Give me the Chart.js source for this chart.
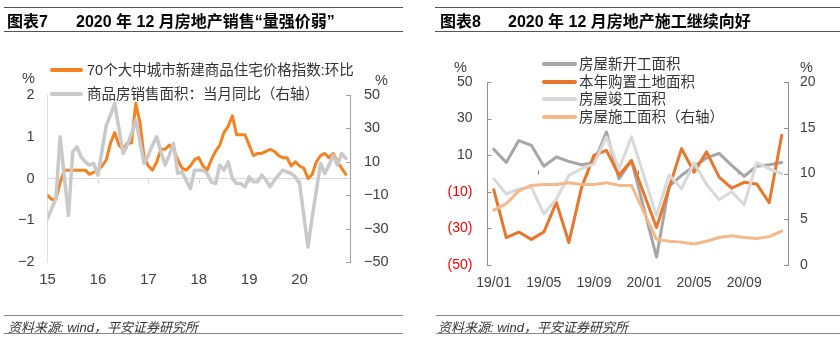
<!DOCTYPE html>
<html>
<head>
<meta charset="utf-8">
<script src="https://cdn.jsdelivr.net/npm/chart.js@4.4.0/dist/chart.umd.min.js"></script>
<style>
body { margin: 0; background: #fff; width: 840px; height: 341px; position: relative; overflow: hidden;
       font-family: 'Liberation Sans', 'Noto Sans CJK SC', sans-serif; color: #404040; }
.panel { position: absolute; top: 0; width: 420px; height: 341px; }
.panel canvas { position: absolute; left: 0; top: 0; z-index: 1; }
.t { position: absolute; white-space: nowrap; z-index: 2; transform: translateY(-50%); }
.rule { position: absolute; height: 0; z-index: 2; }
.title { font-size: 16px; font-weight: bold; color: #000; }
.leg { font-size: 14.5px; line-height: 18px; display: flex; align-items: center; color: #333; }
.sw { display: inline-block; height: 4px; border-radius: 2px; }
.unit { font-size: 14.5px; color: #404040; }
.src { font-size: 13px; font-style: italic; color: #333; }
</style>
</head>
<body>

<div class="panel" style="left:0">
  <div class="rule" style="left:4px;width:399px;top:7px;border-top:1.5px solid #555"></div>
  <div class="t title" style="left:7px;top:20px">图表7</div>
  <div class="t title" style="left:76px;top:20px">2020 年 12 月房地产销售“量强价弱”</div>
  <div class="rule" style="left:4px;width:399px;top:31px;border-top:1.5px solid #555"></div>
  <div class="t leg" style="left:50px;top:70px"><span class="sw" style="width:33px;margin-right:4px;background:#F58220"></span>70个大中城市新建商品住宅价格指数:环比</div>
  <div class="t leg" style="left:50px;top:94px"><span class="sw" style="width:33px;margin-right:4px;background:#C9C9C9"></span>商品房销售面积：当月同比（右轴）</div>
  <div class="t unit" style="left:22px;top:78px">%</div>
  <div class="t unit" style="left:375px;top:80px">%</div>
  <canvas id="c1" width="420" height="341"></canvas>
  <div class="rule" style="left:4px;width:399px;top:315px;border-top:1.5px solid #888"></div>
  <div class="t src" style="left:8px;top:326px">资料来源: wind，平安证券研究所</div>
  <div class="rule" style="left:4px;width:399px;top:333px;border-top:1.5px solid #888"></div>
</div>

<div class="panel" style="left:420px">
  <div class="rule" style="left:15px;width:405px;top:7px;border-top:1.5px solid #555"></div>
  <div class="t title" style="left:20px;top:20px">图表8</div>
  <div class="t title" style="left:88px;top:20px">2020 年 12 月房地产施工继续向好</div>
  <div class="rule" style="left:15px;width:405px;top:31px;border-top:1.5px solid #555"></div>
  <div class="t leg" style="left:122px;top:64px"><span class="sw" style="width:35px;margin-right:2px;background:#A6A6A6"></span>房屋新开工面积</div>
  <div class="t leg" style="left:122px;top:82px"><span class="sw" style="width:35px;margin-right:2px;background:#E8762B"></span>本年购置土地面积</div>
  <div class="t leg" style="left:122px;top:99px"><span class="sw" style="width:35px;margin-right:2px;background:#D9D9D9"></span>房屋竣工面积</div>
  <div class="t leg" style="left:122px;top:117px"><span class="sw" style="width:35px;margin-right:2px;background:#F5B888"></span>房屋施工面积（右轴）</div>
  <div class="t unit" style="left:34px;top:67px">%</div>
  <div class="t unit" style="left:380px;top:67px">%</div>
  <canvas id="c2" width="420" height="341"></canvas>
  <div class="rule" style="left:16px;width:404px;top:315px;border-top:1.5px solid #888"></div>
  <div class="t src" style="left:18px;top:326px">资料来源: wind，平安证券研究所</div>
  <div class="rule" style="left:16px;width:404px;top:333px;border-top:1.5px solid #888"></div>
</div>

<script>
// ---- chart 7 data: monthly 2015-01 .. 2020-12 ----
const years = ['15', '16', '17', '18', '19', '20'];
const priceMoM = [
  -0.4, -0.5, -0.5, -0.1, 0.2, 0.2, 0.2, 0.2, 0.2, 0.2, 0.1, 0.15,
  0.2, 0.3, 0.45, 0.85, 1.1, 0.8, 0.7, 0.85, 0.85, 1.8, 1.35, 0.5,
  0.3, 0.2, 0.4, 0.7, 0.7, 0.8, 0.7, 0.45, 0.25, 0.2, 0.3, 0.45,
  0.5, 0.3, 0.2, 0.45, 0.65, 0.8, 1.1, 1.25, 1.5, 1.05, 1.05, 1.05,
  0.8, 0.55, 0.6, 0.6, 0.65, 0.7, 0.65, 0.55, 0.5, 0.5, 0.3, 0.4,
  0.3, 0.25, 0.0, 0.1, 0.4, 0.55, 0.6, 0.5, 0.6, 0.4, 0.25, 0.1
];
const salesYoY = [
  -24, -18, -12, 25, 1, -22, 16, 19, 13, 10, 8, 9,
  2, 17, 32, 38, 45, 30, 15, 20, 27, 35, 22, 9,
  14, 20, 25, 16, 8, 14, 21, 3, 4, -1, -6, 5,
  5, 5, 3, -2, -3, 8, 5, 10, 0, -3, -3, -5,
  1, -2, -2, 2, -1, -5, -1, 2, 5, 4, 3, 1,
  -3, -22, -41, -23, -7, 9, 3, 8, 14, 8, 15, 12
];

// ---- chart 8 data: 2019-01 .. 2020-12 ----
const months = ['19/01', '19/02', '19/03', '19/04', '19/05', '19/06', '19/07', '19/08', '19/09', '19/10', '19/11', '19/12',
                '20/01', '20/02', '20/03', '20/04', '20/05', '20/06', '20/07', '20/08', '20/09', '20/10', '20/11', '20/12'];
const newStarts = [13.3, 6, 18, 15.4, 4, 9, 6.6, 4.8, 5.9, 22.7, -2.9, 7.1, null, -45.7, -7, -1, 4, 8.5, 11, 4.4, -1.5, 4, 4.8, 6];
const landBought = [-8.8, -35, -32, -36, -32, -15.8, -37.7, -8, 9.9, 12.6, -1, 7.1, null, -29.5, -8, 13.6, 0.7, 11.8, -2, -8, -4.8, -5.7, -16, 20.9];
const completed = [-2.9, -11.2, -8.4, -7.5, -22.1, -13.9, -1.1, 2.6, 5.3, 20, 2.5, 20, null, -23, -0.7, -8.4, 5.9, -6, -14.3, -10, -17, 5.9, 2.6, -0.2];
const underConstr = [6.0, 6.7, 8.1, 8.7, 8.8, 8.8, 9.0, 8.8, 8.8, 9.0, 8.7, 8.7, null, 2.8, 2.6, 2.5, 2.3, 2.6, 3.0, 3.2, 3.0, 2.9, 3.1, 3.7];

const FONT = "'Liberation Sans', 'Noto Sans CJK SC', sans-serif";
const TXT = '#404040';
const minus = v => String(v).replace('-', '\u2212');

// small inward tick marks on the value axes and on the zero line
const axisMarks = {
  id: 'axisMarks',
  beforeDatasetsDraw(chart, args, opts) {
    const ctx = chart.ctx;
    ctx.save();
    ctx.lineWidth = 1;
    (opts.axes || []).forEach(a => {
      const s = chart.scales[a.id];
      const x0 = s.position === 'left' ? s.right : s.left;
      const dir = s.position === 'left' ? 1 : -1;
      ctx.strokeStyle = a.color;
      s.ticks.forEach(tk => {
        const y = Math.round(s.getPixelForValue(tk.value)) + 0.5;
        ctx.beginPath();
        ctx.moveTo(x0, y);
        ctx.lineTo(x0 + dir * 4, y);
        ctx.stroke();
      });
    });
    if (opts.zero) {
      const z = opts.zero;
      const y = Math.round(chart.scales[z.yId].getPixelForValue(0)) + 0.5;
      ctx.strokeStyle = z.color;
      z.at.forEach(v => {
        const x = Math.round(chart.scales.x.getPixelForValue(v)) + 0.5;
        ctx.beginPath();
        ctx.moveTo(x, y);
        ctx.lineTo(x, y + z.dir * 4);
        ctx.stroke();
      });
    }
    ctx.restore();
  }
};

const lineDefaults = { pointRadius: 0, tension: 0, borderJoinStyle: 'round', borderCapStyle: 'round', fill: false };

new Chart(document.getElementById('c1'), {
  type: 'line',
  data: {
    datasets: [
      Object.assign({
        label: '70个大中城市新建商品住宅价格指数:环比',
        data: priceMoM.map((v, i) => ({ x: i, y: v })),
        yAxisID: 'y', borderColor: '#F58220', borderWidth: 3, order: 1
      }, lineDefaults),
      Object.assign({
        label: '商品房销售面积：当月同比（右轴）',
        data: salesYoY.map((v, i) => ({ x: i, y: v })),
        yAxisID: 'y1', borderColor: '#C9C9C9', borderWidth: 3.5, order: 0
      }, lineDefaults)
    ]
  },
  options: {
    responsive: false,
    animation: false,
    layout: { padding: { top: 95, left: 0, right: 10, bottom: 49 } },
    plugins: {
      legend: { display: false },
      tooltip: { enabled: false },
      axisMarks: {
        axes: [{ id: 'y1', color: '#A0A0A0' }],
        zero: { yId: 'y', at: [12, 24, 36, 48, 60], dir: 1, color: '#D0D0D0' }
      }
    },
    scales: {
      x: {
        type: 'linear', min: 0, max: 72,
        grid: { display: false, drawTicks: false },
        border: { display: false },
        afterBuildTicks: s => { s.ticks = years.map((y, i) => ({ value: i * 12 })); },
        ticks: { callback: v => years[v / 12], color: TXT, font: { size: 15, family: FONT }, padding: 9, maxRotation: 0, autoSkip: false },
        afterFit: s => { s.height = 30; }
      },
      y: {
        position: 'left', min: -2, max: 2,
        grid: { color: c => c.tick.value === 0 ? '#D9D9D9' : 'rgba(0,0,0,0)', drawTicks: false, lineWidth: 1 },
        border: { display: true, color: '#DDDDDD' },
        ticks: { stepSize: 1, callback: v => minus(v), color: TXT, font: { size: 14.5, family: FONT }, padding: 13 },
        afterFit: s => { s.width = 47.5; }
      },
      y1: {
        position: 'right', min: -50, max: 50,
        grid: { display: false, drawTicks: false },
        border: { display: true, color: '#A0A0A0' },
        ticks: { stepSize: 20, callback: v => minus(v), color: TXT, font: { size: 14.5, family: FONT }, padding: 14 },
        afterFit: s => { s.width = 60; }
      }
    }
  },
  plugins: [axisMarks]
});

new Chart(document.getElementById('c2'), {
  type: 'line',
  data: {
    labels: months,
    datasets: [
      Object.assign({ label: '房屋新开工面积', data: newStarts, yAxisID: 'y', borderColor: '#A6A6A6', borderWidth: 3, order: 4, spanGaps: true }, lineDefaults),
      Object.assign({ label: '本年购置土地面积', data: landBought, yAxisID: 'y', borderColor: '#E8762B', borderWidth: 3, order: 3, spanGaps: true }, lineDefaults),
      Object.assign({ label: '房屋竣工面积', data: completed, yAxisID: 'y', borderColor: '#D9D9D9', borderWidth: 3, order: 2, spanGaps: true }, lineDefaults),
      Object.assign({ label: '房屋施工面积（右轴）', data: underConstr, yAxisID: 'y1', borderColor: '#F5B888', borderWidth: 3, order: 1, spanGaps: true }, lineDefaults)
    ]
  },
  options: {
    responsive: false,
    animation: false,
    layout: { padding: { top: 82, left: 0, right: 12, bottom: 46 } },
    plugins: {
      legend: { display: false },
      tooltip: { enabled: false },
      axisMarks: {
        axes: [{ id: 'y', color: '#909090' }, { id: 'y1', color: '#909090' }],
        zero: { yId: 'y', at: [3.5, 7.5, 11.5, 15.5, 19.5], dir: -1, color: '#808080' }
      }
    },
    scales: {
      x: {
        type: 'category', offset: true,
        grid: { display: false, drawTicks: false },
        border: { display: false },
        ticks: { autoSkip: false, maxRotation: 0, callback: (v, i) => i % 4 === 0 ? months[i] : '', color: TXT, font: { size: 14, family: FONT }, padding: 10 },
        afterFit: s => { s.height = 30; }
      },
      y: {
        position: 'left', min: -50, max: 50,
        grid: { color: c => c.tick.value === 0 ? '#808080' : 'rgba(0,0,0,0)', drawTicks: false, lineWidth: 1 },
        border: { display: true, color: '#909090' },
        ticks: {
          stepSize: 20,
          callback: v => v < 0 ? '(' + (-v) + ')' : String(v),
          color: c => c.tick && c.tick.value < 0 ? '#FF0000' : TXT,
          font: { size: 14, family: FONT }, padding: 15
        },
        afterFit: s => { s.width = 67.5; }
      },
      y1: {
        position: 'right', min: 0, max: 20,
        grid: { display: false, drawTicks: false },
        border: { display: true, color: '#909090' },
        ticks: { stepSize: 5, color: TXT, font: { size: 14, family: FONT }, padding: 12 },
        afterFit: s => { s.width = 40; }
      }
    }
  },
  plugins: [axisMarks]
});
</script>
</body>
</html>
